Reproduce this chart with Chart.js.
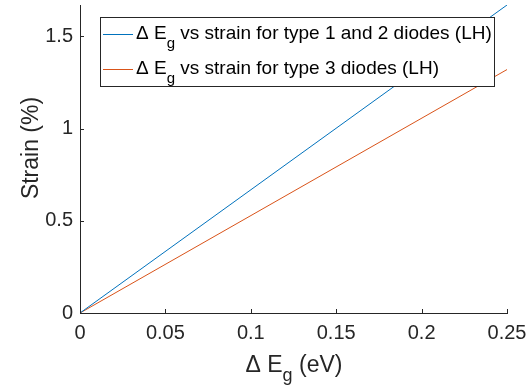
<!DOCTYPE html>
<html>
<head>
<meta charset="UTF-8">
<script src="https://cdn.jsdelivr.net/npm/chart.js"></script>
<style>
  body { margin: 0; background: #fff; }
  #wrap { width: 532px; height: 389px; }
</style>
</head>
<body>
<div id="wrap"><canvas id="c" width="532" height="389"></canvas></div>
<script>
// data
const deltaEg = [0, 0.25];
const strainType12 = [0, 1.67];
const strainType3 = [0, 1.32];
const xTicks = [0, 0.05, 0.1, 0.15, 0.2, 0.25];
const xTickLabels = ['0', '0.05', '0.1', '0.15', '0.2', '0.25'];
const yTicks = [0, 0.5, 1, 1.5];
const yTickLabels = ['0', '0.5', '1', '1.5'];
const seriesNames = ['vs strain for type 1 and 2 diodes (LH)', 'vs strain for type 3 diodes (LH)'];
const colors = ['#0072BD', '#D95319'];

const FONT = "'Liberation Sans', Arial, sans-serif";
const TXT = '#262626';

function pts(ys) { return deltaEg.map((x, i) => ({ x: x, y: ys[i] })); }

// draws inward ticks, axis titles with subscript and the legend box
const matlabBits = {
  id: 'matlabBits',
  afterDraw(chart) {
    const ctx = chart.ctx, a = chart.chartArea;
    const xs = chart.scales.x, ys = chart.scales.y;
    ctx.save();
    ctx.strokeStyle = TXT;
    ctx.lineWidth = 1;
    ctx.beginPath();
    xTicks.forEach(v => {
      const p = Math.round(xs.getPixelForValue(v)) + 0.5;
      ctx.moveTo(p, a.bottom); ctx.lineTo(p, a.bottom - 4);
    });
    yTicks.forEach(v => {
      const p = Math.round(ys.getPixelForValue(v)) + 0.5;
      ctx.moveTo(a.left, p); ctx.lineTo(a.left + 4, p);
    });
    ctx.stroke();

    // x title: Δ E_g (eV)
    ctx.fillStyle = TXT;
    ctx.textBaseline = 'alphabetic';
    const p1 = '\u0394 E', p3 = ' (eV)';
    ctx.font = '23px ' + FONT; const w1 = ctx.measureText(p1).width;
    ctx.font = '18px ' + FONT; const w2 = ctx.measureText('g').width;
    ctx.font = '23px ' + FONT; const w3 = ctx.measureText(p3).width;
    let x0 = 294 - (w1 + w2 + w3) / 2;
    const by = 372;
    ctx.fillText(p1, x0, by);
    ctx.font = '18px ' + FONT; ctx.fillText('g', x0 + w1, by + 9);
    ctx.font = '23px ' + FONT; ctx.fillText(p3, x0 + w1 + w2, by);

    // y title
    ctx.save();
    ctx.translate(38, 148);
    ctx.rotate(-Math.PI / 2);
    ctx.textAlign = 'center';
    ctx.font = '23px ' + FONT;
    ctx.fillText('Strain (%)', 0, 0);
    ctx.restore();

    // legend
    const lx = 100.5, ly = 17.5, lw = 394, lh = 69;
    ctx.fillStyle = '#fff';
    ctx.fillRect(lx, ly, lw, lh);
    ctx.strokeStyle = '#262626';
    ctx.strokeRect(lx, ly, lw, lh);
    const rows = [34, 69];
    seriesNames.forEach((name, i) => {
      const yy = rows[i];
      ctx.strokeStyle = colors[i];
      ctx.beginPath();
      ctx.moveTo(103, yy + 0.5); ctx.lineTo(133, yy + 0.5);
      ctx.stroke();
      ctx.fillStyle = '#000';
      ctx.font = '19px ' + FONT;
      const t1 = '\u0394 E';
      const tw1 = ctx.measureText(t1).width;
      ctx.fillText(t1, 136, yy + 5);
      ctx.font = '15px ' + FONT;
      const tw2 = ctx.measureText('g').width;
      ctx.fillText('g', 136 + tw1, yy + 14);
      ctx.font = '19px ' + FONT;
      ctx.fillText(' ' + name, 136 + tw1 + tw2, yy + 5);
    });
    ctx.restore();
  }
};

new Chart(document.getElementById('c'), {
  type: 'scatter',
  data: {
    datasets: [
      { data: pts(strainType12), borderColor: colors[0], borderWidth: 1, showLine: true, pointRadius: 0 },
      { data: pts(strainType3), borderColor: colors[1], borderWidth: 1, showLine: true, pointRadius: 0 }
    ]
  },
  options: {
    responsive: false,
    animation: false,
    events: [],
    layout: { padding: { top: 5, right: 25, left: 0, bottom: 0 } },
    plugins: { legend: { display: false }, tooltip: { enabled: false } },
    scales: {
      x: {
        type: 'linear', min: 0, max: 0.25,
        afterBuildTicks: s => { s.ticks = xTicks.map(v => ({ value: v })); },
        afterFit: s => { s.height = 76; s.paddingLeft = 0; s.paddingRight = 0; },
        grid: { display: false, drawTicks: false },
        border: { display: true, color: TXT, width: 1 },
        ticks: {
          padding: 8, color: TXT, maxRotation: 0,
          font: { family: FONT, size: 20 },
          callback: (v) => xTickLabels[xTicks.indexOf(v)] ?? ''
        }
      },
      y: {
        type: 'linear', min: 0, max: 1.67,
        afterBuildTicks: s => { s.ticks = yTicks.map(v => ({ value: v })); },
        afterFit: s => { s.width = 80; s.paddingTop = 0; s.paddingBottom = 0; },
        grid: { display: false, drawTicks: false },
        border: { display: true, color: TXT, width: 1 },
        ticks: {
          padding: 7, color: TXT,
          font: { family: FONT, size: 20 },
          callback: (v) => yTickLabels[yTicks.indexOf(v)] ?? ''
        }
      }
    }
  },
  plugins: [matlabBits]
});
</script>
</body>
</html>
